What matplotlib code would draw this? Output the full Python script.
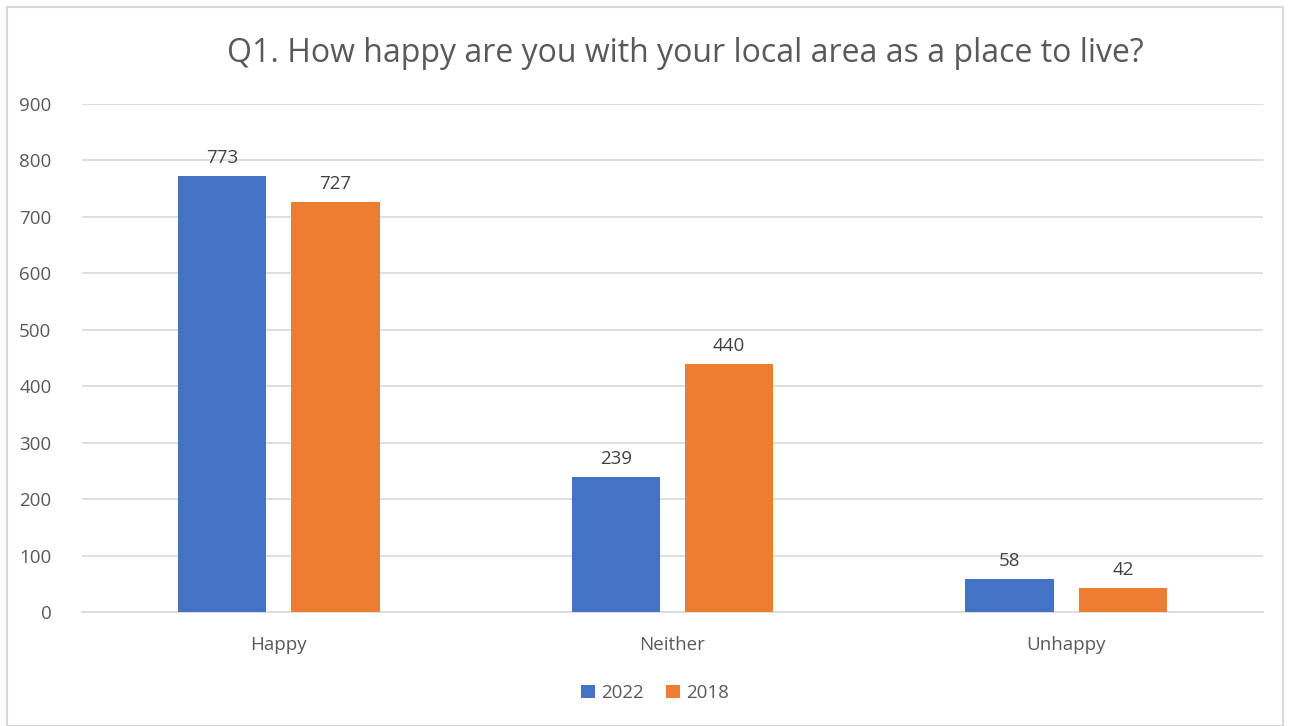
import numpy as np
import matplotlib.pyplot as plt
from matplotlib.patches import Rectangle

categories = ['Happy', 'Neither', 'Unhappy']
series_names = ['2022', '2018']
values_2022 = [773, 239, 58]
values_2018 = [727, 440, 42]

colors = ['#4472C4', '#ED7D31']
text_color = '#595959'
grid_color = '#D9D9D9'

plt.rcParams['font.family'] = ['Open Sans', 'DejaVu Sans']

fig = plt.figure(figsize=(12.9, 7.26), dpi=100)
ax = fig.add_axes([82 / 1290, 1 - 612 / 726, (1263 - 82) / 1290, (612 - 104) / 726])

x = np.arange(len(categories))
width = 0.224
offset = 0.144

for vals, name, color, dx in zip([values_2022, values_2018], series_names, colors, [-offset, offset]):
    bars = ax.bar(x + dx, vals, width, color=color, label=name, zorder=3)
    for b, v in zip(bars, vals):
        ax.text(b.get_x() + b.get_width() / 2, v + 16, str(v), ha='center', va='bottom',
                fontsize=13.5, color='#404040')

ax.set_xlim(-0.5, 2.5)
ax.set_ylim(0, 900)
ax.set_yticks(range(0, 901, 100))
ax.yaxis.grid(True, color=grid_color, linewidth=1.2, zorder=0)
ax.set_xticks(x)
ax.set_xticklabels(categories)
ax.tick_params(axis='both', length=0, labelsize=13.5, labelcolor=text_color)
ax.tick_params(axis='x', pad=17)
ax.tick_params(axis='y', pad=22)
for s in ['top', 'right', 'left']:
    ax.spines[s].set_visible(False)
ax.spines['bottom'].set_color(grid_color)
ax.spines['bottom'].set_linewidth(1.2)

fig.text(0.531, 1 - 53 / 726, 'Q1. How happy are you with your local area as a place to live?',
         ha='center', va='center', fontsize=23, color=text_color)

ax.legend(loc='center', bbox_to_anchor=(655 / 1290, 1 - 693 / 726), bbox_transform=fig.transFigure,
          ncol=2, frameon=False, fontsize=13.5, labelcolor=text_color, handlelength=0.75,
          handleheight=0.75, handletextpad=0.3, columnspacing=1.2)

fig.patches.append(Rectangle((7 / 1290, 0), 1 - 14 / 1290, 1 - 7 / 726, transform=fig.transFigure,
                             fill=False, edgecolor='#D9D9D9', linewidth=1.5))

fig.savefig('out.png', dpi=100)
